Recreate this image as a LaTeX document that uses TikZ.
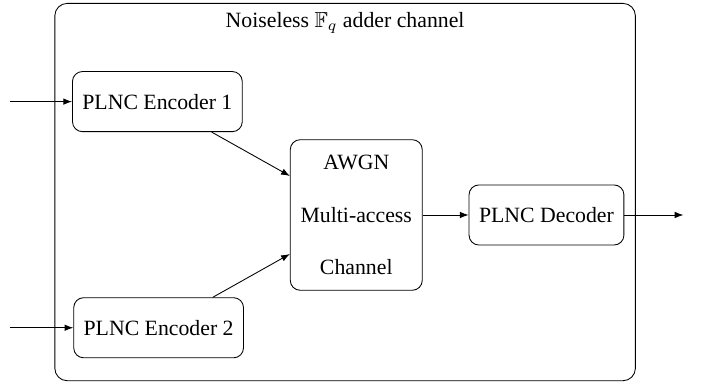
\documentclass[tikz,border=0pt]{standalone}
\usepackage{amssymb}
\usepackage{fontspec}
\setmainfont{Liberation Serif}
\usetikzlibrary{arrows.meta,positioning}

\tikzset{
  plncbox/.style={draw, rectangle, rounded corners=0.16cm, minimum height=0.97cm, inner sep=2pt},
  chanbox/.style={draw, rectangle, rounded corners=0.2cm},
}

\begin{document}
\begin{tikzpicture}[>={Latex[length=4pt,width=3pt]}, font=\normalsize]

    \useasboundingbox (0,0) rectangle (11.33,6.21);

    % Outer channel box
    \node (Outer) [chanbox, minimum width=9.37cm, minimum height=6.09cm] at (5.57, 3.11) {};
    \node (Title) at (5.57, 5.84) {Noiseless $\mathbb{F}_q$ adder channel};

    % Encoders
    \node (Enc1) [plncbox, minimum width=2.74cm] at (2.54, 4.57) {PLNC Encoder 1};
    \node (Enc2) [plncbox, minimum width=2.74cm] at (2.56, 0.92) {PLNC Encoder 2};

    % Multi-access channel
    \node (Mac) [plncbox, align=center, minimum width=2.13cm, minimum height=2.43cm] at (5.75, 2.74)
        {AWGN\\[12pt] Multi-access\\[12pt] Channel};

    % Decoder
    \node (Dec) [plncbox, minimum width=2.5cm] at (8.82, 2.74) {PLNC Decoder};

    % Free ends
    \coordinate (In1) at (0.16, 4.57);
    \coordinate (In2) at (0.16, 0.92);
    \coordinate (Out) at (11.03, 2.74);

    % Connections
    \draw[->] (In1) -- (Enc1.west);
    \draw[->] (In2) -- (Enc2.west);
    \draw[->] (Enc1) -- ([yshift=0.63cm]Mac.west);
    \draw[->] (Enc2) -- ([yshift=-0.63cm]Mac.west);
    \draw[->] (Mac.east) -- (Dec.west);
    \draw[->] (Dec.east) -- (Out);

\end{tikzpicture}
\end{document}
